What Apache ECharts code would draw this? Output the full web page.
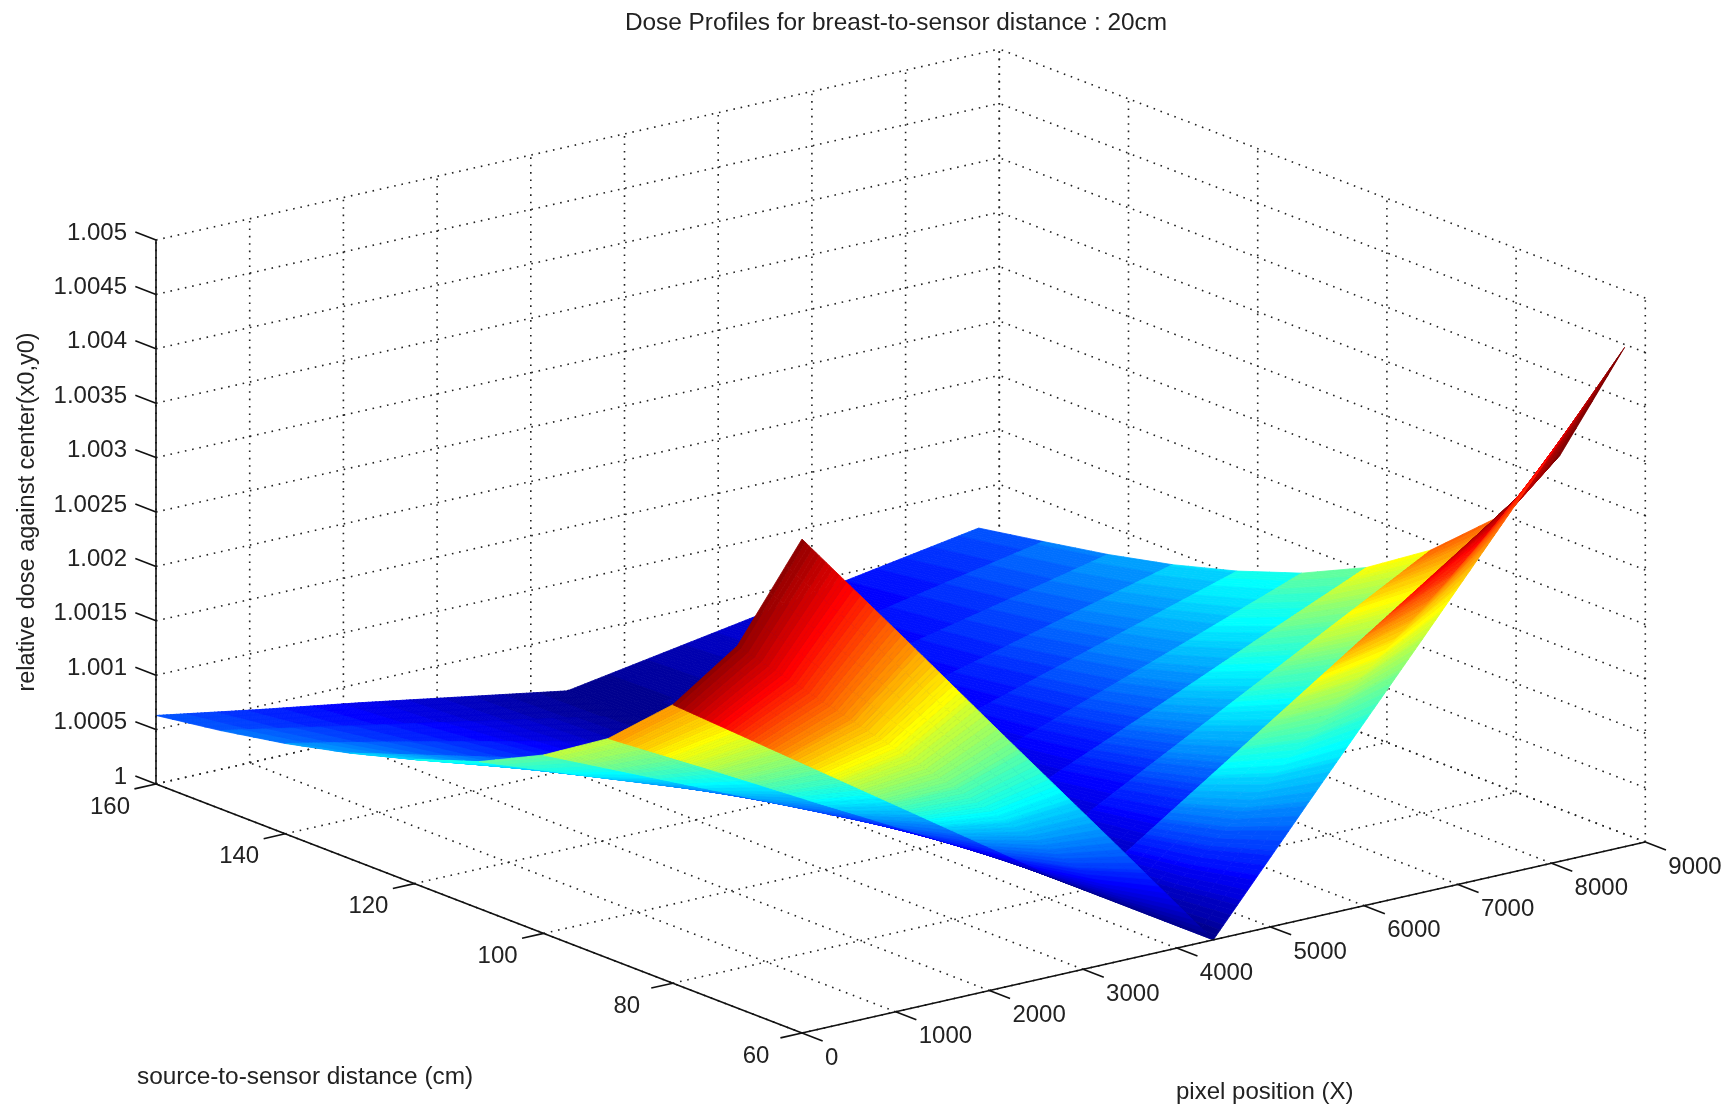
<!DOCTYPE html>
<html><head><meta charset="utf-8">
<style>html,body{margin:0;padding:0;background:#fff}#c{width:1733px;height:1110px}</style>
<script src="https://cdn.jsdelivr.net/npm/echarts@6/dist/echarts.min.js"></script>
</head><body><div id="c"></div>
<script>
const titleText = 'Dose Profiles for breast-to-sensor distance : 20cm';
const xName = 'pixel position (X)';
const yName = 'source-to-sensor distance (cm)';
const zName = 'relative dose against center(x0,y0)';
const xTicks = [0,1000,2000,3000,4000,5000,6000,7000,8000,9000];
const yTicks = [60,80,100,120,140,160];
const zTicks = [1,1.0005,1.001,1.0015,1.002,1.0025,1.003,1.0035,1.004,1.0045,1.005];
const zLabels = ['1','1.0005','1.001','1.0015','1.002','1.0025','1.003','1.0035','1.004','1.0045','1.005'];
const xGrid = [0,1097,2195,3292,4390,5487,6585,7682,8780];
const yGrid = [60,70,80,90,100,110,120,130,140,150,160];
// dose excess above 1, in units of 0.001, one row per source-to-sensor distance
const z60  = [4.54,3.41,2.27,1.14,0,1.15,2.29,3.44,4.59];
const z70  = [3.33,2.50,1.67,.84,0,.84,1.69,2.53,3.37];
const z80  = [2.56,1.92,1.28,.64,0,.64,1.28,1.92,2.56];
const z90  = [2.02,1.52,1.01,.51,0,.51,1.02,1.53,2.04];
const z100 = [1.64,1.23,.82,.41,0,.41,.82,1.24,1.65];
const z110 = [1.35,1.01,.68,.34,0,.34,.68,1.02,1.37];
const z120 = [1.14,.85,.57,.28,0,.29,.58,.87,1.16];
const z130 = [.97,.73,.49,.24,0,.25,.49,.74,.99];
const z140 = [.83,.63,.42,.21,0,.21,.43,.64,.855];
const z150 = [.72,.54,.36,.18,0,.19,.37,.56,.745];
const z160 = [.63,.47,.32,.16,0,.16,.32,.48,.64];
const zRows = [z60,z70,z80,z90,z100,z110,z120,z130,z140,z150,z160];
// colour level (0..1 of the colormap) on each strip between two neighbouring rows
const c60  = [.98,.74,.49,.24,0,.28,.54,.82,1];
const c70  = [.98,.74,.49,.24,0,.28,.54,.82,1];
const c80  = [.72,.54,.36,.18,0,.16,.36,.58,.78];
const c90  = [.56,.42,.28,.14,0,.12,.28,.45,.62];
const c100 = [.46,.35,.23,.12,0,.09,.21,.34,.47];
const c110 = [.38,.29,.19,.10,0,.08,.18,.28,.39];
const c120 = [.32,.24,.16,.08,0,.07,.15,.24,.33];
const c130 = [.27,.20,.14,.07,0,.06,.13,.20,.28];
const c140 = [.23,.17,.12,.06,0,.05,.11,.17,.24];
const c150 = [.20,.15,.10,.05,0,.04,.09,.14,.20];
const cStrips = [c60,c70,c80,c90,c100,c110,c120,c130,c140,c150];

// orthographic view of the 3D box onto the 2D plane of the hidden cartesian axes
function proj(x,y,z){
  return [802 + 0.0937*x - 6.46*(y-60), 1033 - 0.02122*x - 2.49*(y-60) - 108800*(z-1)];
}
const X0=0,X1=9000,Y0=60,Y1=160,Z0=1,Z1=1.005;

function jet(c){
  let i=Math.floor(c*64); if(i>63)i=63; if(i<0)i=0;
  const t=(i+1)/64, cl=v=>Math.round(255*Math.max(0,Math.min(1,v)));
  return 'rgb('+cl(Math.min(4*t-1.5,-4*t+4.5))+','+cl(Math.min(4*t-.5,-4*t+3.5))+','+cl(Math.min(4*t+.5,-4*t+2.5))+')';
}

const gridLines=[];
xTicks.forEach(x=>{gridLines.push([x,Y1,Z0,x,Y1,Z1]);gridLines.push([x,Y0,Z0,x,Y1,Z0]);});
yTicks.forEach(y=>{gridLines.push([X1,y,Z0,X1,y,Z1]);gridLines.push([X0,y,Z0,X1,y,Z0]);});
zTicks.forEach(z=>{gridLines.push([X0,Y1,z,X1,Y1,z]);gridLines.push([X1,Y0,z,X1,Y1,z]);});

const axisLines=[[X0,Y1,Z0,X0,Y1,Z1],[X0,Y0,Z0,X0,Y1,Z0],[X0,Y0,Z0,X1,Y0,Z0]];
xTicks.forEach(x=>axisLines.push([x,Y0,Z0,x,Y0-3.2,Z0]));
yTicks.forEach(y=>axisLines.push([X0,y,Z0,-230,y,Z0]));
zTicks.forEach(z=>axisLines.push([X0,Y1,z,X0,Y1+3.2,z]));

const cells=[];
for(let r=yGrid.length-2;r>=0;r--)for(let c=xGrid.length-2;c>=0;c--)cells.push([c,r]);

const labels=[];
xTicks.forEach(x=>{const p=proj(x,Y0,Z0);labels.push({value:[p[0]+23,p[1]+25],t:String(x),a:'left'});});
yTicks.forEach(y=>{const p=proj(X0,y,Z0);labels.push({value:[p[0]-46,p[1]+23],t:String(y),a:'center'});});
zTicks.forEach((z,i)=>{const p=proj(X0,Y1,z);labels.push({value:[127,p[1]-7],t:zLabels[i],a:'right'});});

const FONT='"Liberation Sans", Arial, sans-serif';
const chart=echarts.init(document.getElementById('c'),null,{renderer:'canvas'});
function lineItem(style){
  return function(params,api){
    const a=proj(api.value(0),api.value(1),api.value(2)),b=proj(api.value(3),api.value(4),api.value(5));
    const p=api.coord(a),q=api.coord(b);
    return {type:'line',silent:true,shape:{x1:p[0],y1:p[1],x2:q[0],y2:q[1]},style:style};
  };
}
const NX=30,NY=4;
function cellItem(params,api){
  const c=api.value(0),r=api.value(1),kids=[];
  const pt=(u,w)=>{
    const x=xGrid[c]+(xGrid[c+1]-xGrid[c])*u, y=yGrid[r]+(yGrid[r+1]-yGrid[r])*w;
    const za=zRows[r][c]+(zRows[r][c+1]-zRows[r][c])*u, zb=zRows[r+1][c]+(zRows[r+1][c+1]-zRows[r+1][c])*u;
    return api.coord(proj(x,y,1+(za+(zb-za)*w)/1000));
  };
  for(let j=NY-1;j>=0;j--)for(let i=NX-1;i>=0;i--){
    const u=(i+.5)/NX;
    const col=jet(cStrips[r][c]+(cStrips[r][c+1]-cStrips[r][c])*u);
    kids.push({type:'polygon',silent:true,shape:{points:[pt(i/NX,j/NY),pt((i+1)/NX,j/NY),pt((i+1)/NX,(j+1)/NY),pt(i/NX,(j+1)/NY)]},
      style:{fill:col,stroke:col,lineWidth:.8}});
  }
  return {type:'group',children:kids};
}
chart.setOption({
  animation:false,
  backgroundColor:'#fff',
  title:{text:titleText,left:891,top:6,textAlign:'center',textStyle:{fontFamily:FONT,fontSize:24.4,fontWeight:'normal',color:'#222'}},
  grid:{left:0,right:0,top:0,bottom:0},
  xAxis:{type:'value',min:0,max:1733,show:false},
  yAxis:{type:'value',min:0,max:1110,inverse:true,show:false},
  series:[
   {type:'custom',name:'grid',z:1,clip:false,silent:true,coordinateSystem:'cartesian2d',data:gridLines,
    renderItem:lineItem({stroke:'#222',lineWidth:1.6,lineDash:[1.6,5.8]})},
   {type:'custom',name:'surface',z:2,clip:false,silent:true,coordinateSystem:'cartesian2d',progressive:0,data:cells,renderItem:cellItem},
   {type:'custom',name:'axes',z:3,clip:false,silent:true,coordinateSystem:'cartesian2d',data:axisLines,
    renderItem:lineItem({stroke:'#111',lineWidth:1.6})},
   {type:'custom',name:'ticks',z:4,clip:false,silent:true,coordinateSystem:'cartesian2d',data:labels,
    renderItem:function(params,api){
      const l=labels[params.dataIndex],p=api.coord([api.value(0),api.value(1)]);
      return {type:'text',silent:true,x:p[0],y:p[1],style:{text:l.t,align:l.a,verticalAlign:'middle',font:'24px '+FONT,fill:'#222'}};
    }}
  ],
  graphic:[
    {type:'text',silent:true,x:137,y:1077,style:{text:yName,font:'24.4px '+FONT,fill:'#222',verticalAlign:'middle'}},
    {type:'text',silent:true,x:1176,y:1092,style:{text:xName,font:'24px '+FONT,fill:'#222',verticalAlign:'middle'}},
    {type:'text',silent:true,x:28,y:512,rotation:Math.PI/2,style:{text:zName,font:'23.5px '+FONT,fill:'#222',align:'center',verticalAlign:'middle'}}
  ]
});
</script></body></html>
